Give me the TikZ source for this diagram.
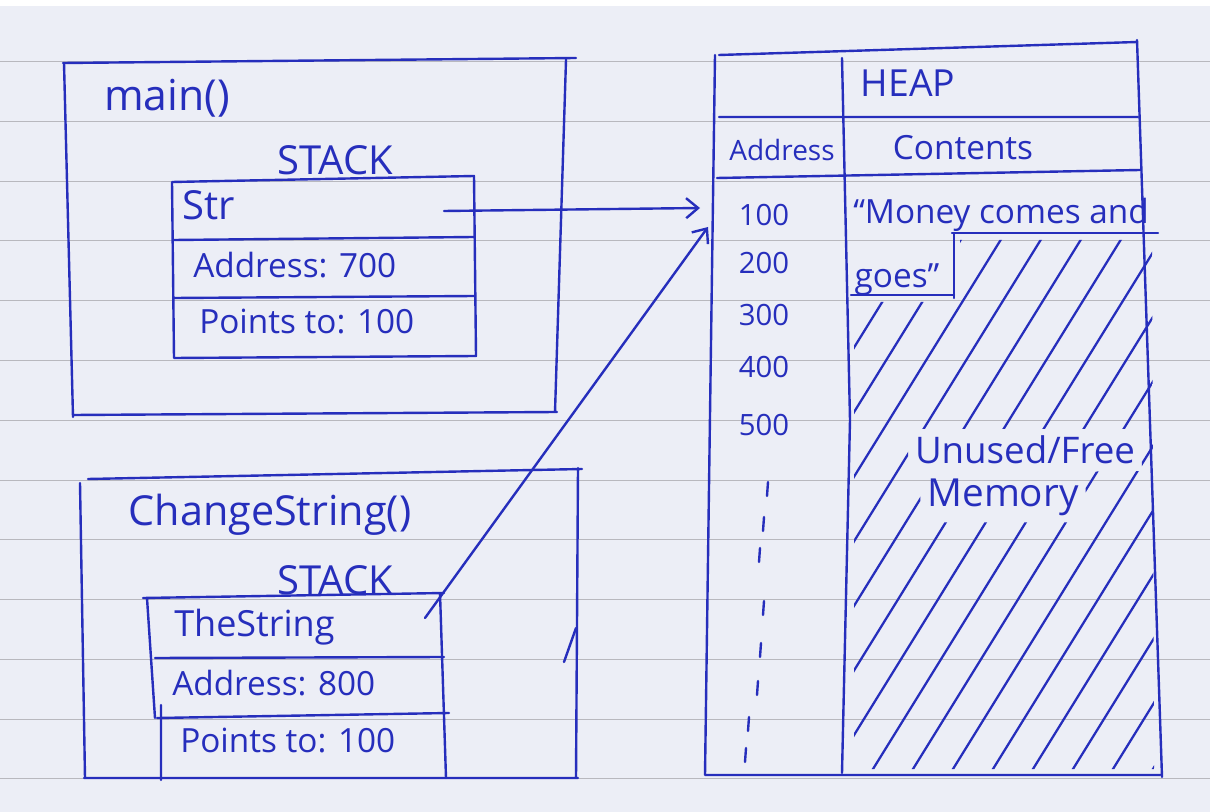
\documentclass[tikz,border=0pt]{standalone}
\usepackage{fontspec}
\setmainfont{Open Sans}
\usetikzlibrary{arrows.meta}
\definecolor{ink}{RGB}{38,46,188}
\definecolor{paper}{RGB}{236,238,246}
\definecolor{ruling}{RGB}{184,184,190}
\tikzset{
  pen/.style={draw=ink, line width=1.8pt, line cap=round, line join=round},
  hand/.style={text=ink, inner sep=0pt, font=\fontsize{25}{30}\selectfont},
  big hand/.style={hand, font=\fontsize{30}{34}\selectfont},
  small hand/.style={hand, font=\fontsize{21}{25}\selectfont},
  ptr/.style={pen, -{Straight Barb[length=9pt,width=15pt,line width=1.8pt]}},
  hatch/.style={draw=ink, line width=1.7pt, line cap=round}
}
\begin{document}
\begin{tikzpicture}[x=0.75pt, y=-0.75pt]
  \useasboundingbox (0,0) rectangle (1210,812);
  % ruled paper
  \fill[paper] (0,0) rectangle (1210,812);
  \fill[white] (0,0) rectangle (1210,6);
  \foreach \y in {61,121,181,240,300,360,420,480,539,599,659,719,778}
    \draw[ruling, line width=0.6pt] (0,\y) -- (1210,\y);

  % main() frame
  \draw[pen] (63,63) -- (576,58) (566,60) -- (555,412) (73,415) -- (557,412) (64,63) -- (73,417);
  \draw[pen] (172,182) -- (474,176) -- (476,356) -- (174,358) -- cycle;
  \draw[pen] (174,240) -- (474,237) (174,298) -- (475,296);
  \node[big hand, font=\fontsize{32}{36}\selectfont] (mainlbl) at (167,98) {main()};
  \node[big hand] (stack1) at (335,160) {STACK};
  \node[big hand, anchor=west] (str) at (182,205) {Str};
  \node[hand, anchor=west] (addr1) at (193,265) {Address: 700};
  \node[hand, anchor=west] (pts1) at (199,322) {Points to: 100};

  % ChangeString() frame
  \draw[pen] (88,479) -- (582,469) (578,468) -- (576,778) (84,778) -- (578,778) (80,483) -- (85,778);
  \draw[pen] (564,662) -- (576,628);
  \draw[pen] (143,598) -- (444,593) (147,598) -- (155,718) (161,705) -- (161,780) (440,593) -- (446,778);
  \draw[pen] (155,658) -- (444,657) (157,718) -- (449,713);
  \node[big hand, font=\fontsize{31}{35}\selectfont] (cslbl) at (270,515) {ChangeString()};
  \node[big hand] (stack2) at (335,580) {STACK};
  \node[hand, font=\fontsize{27}{31}\selectfont, anchor=west] (thestr) at (174,627) {TheString};
  \node[hand, anchor=west] (addr2) at (172,683) {Address: 800};
  \node[hand, anchor=west] (pts2) at (180,741) {Points to: 100};

  % heap table
  \draw[pen] (719,55) -- (1137,42) (1137,40) -- (1162,777) (705,775) -- (1160,775) (715,55) -- (705,775);
  \draw[pen] (842,58) -- (850,420) -- (842,773);
  \draw[pen] (719,117) -- (1138,117) (717,178) -- (1140,170);
  \node[hand, font=\fontsize{28}{32}\selectfont] (heap) at (908,83) {HEAP};
  \node[small hand] (addrhd) at (782,150) {Address};
  \node[hand] (conthd) at (963,148) {Contents};
  \foreach \n/\y in {100/215, 200/263, 300/315, 400/367, 500/425}
    \node[hand, font=\fontsize{22}{26}\selectfont] (a\n) at (764,\y) {\n};
  \foreach \x/\y in {768/482, 764/517, 760/548, 764/601, 761/643, 758/681, 749/717, 746/748}
    \draw[pen] (\x,\y) -- ++(-1,14);
  \node[hand, anchor=west] (money) at (853,215) {“Money comes and};
  \node[hand] (goes) at (897,280) {goes”};
  \draw[pen] (952,233) -- (1158,233) (954,233) -- (954,298) (851,295) -- (954,295);
  \node[hand, font=\fontsize{27.5}{31}\selectfont, inner sep=5pt] (unused) at (1025,450) {Unused/Free};
  \node[hand, font=\fontsize{29}{33}\selectfont, inner sep=5pt] (memory) at (1003,497) {Memory};
  \begin{scope}[even odd rule]
    \clip (960,240) -- (1152,240) -- (1154,769) -- (854,769) -- (854,302) -- (960,302) -- cycle
      (unused.north west) -- (unused.north east) -- (unused.south east) -- (memory.north east)
      -- (memory.south east) -- (memory.south west) -- (memory.north west) -- (unused.south west) -- cycle;
    \foreach \b in {500,540,...,1180}
      \draw[hatch] (\b,790) -- ++(353,-570);
  \end{scope}

  % pointers
  \coordinate (strtail) at (444,211);
  \coordinate (slot100) at (700,208);
  \coordinate (thetail) at (425,618);
  \coordinate (slot100b) at (708,227);
  \draw[ptr] (strtail) -- (slot100);
  \draw[ptr] (thetail) -- (slot100b);
\end{tikzpicture}
\end{document}
